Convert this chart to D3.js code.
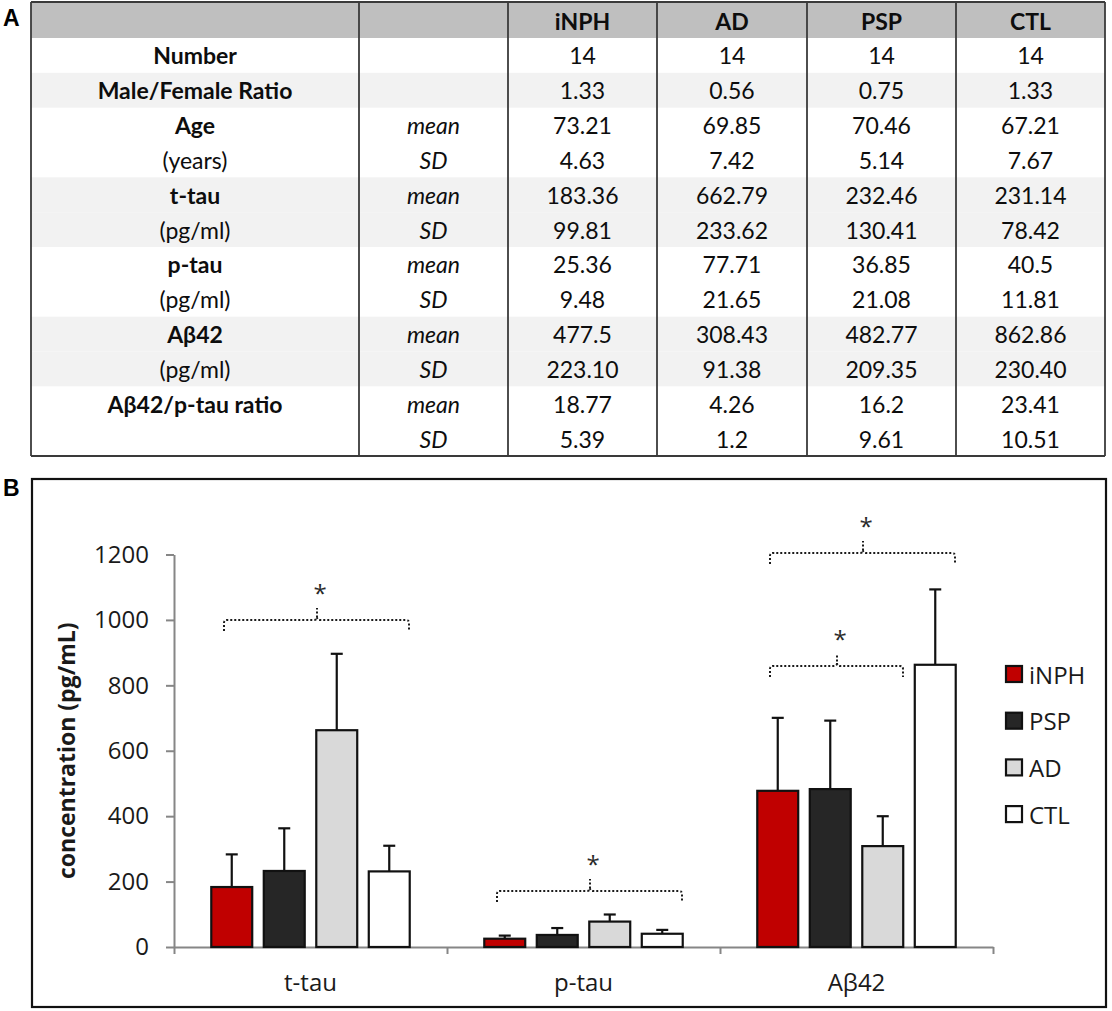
<!DOCTYPE html>
<html>
<head>
<meta charset="utf-8">
<script src="https://cdn.jsdelivr.net/npm/d3@7"></script>
<style>
    body { margin: 0; background: #fff; }
    svg { display: block; }
</style>
</head>
<body>
<div id="figure"></div>
<script>
// table columns (panel A)
const groups = ["iNPH", "AD", "PSP", "CTL"];
const numberRow = ["14", "14", "14", "14"];
const sexRatio = ["1.33", "0.56", "0.75", "1.33"];
const ageMean = ["73.21", "69.85", "70.46", "67.21"];
const ageSD = ["4.63", "7.42", "5.14", "7.67"];
const ttauMean = ["183.36", "662.79", "232.46", "231.14"];
const ttauSD = ["99.81", "233.62", "130.41", "78.42"];
const ptauMean = ["25.36", "77.71", "36.85", "40.5"];
const ptauSD = ["9.48", "21.65", "21.08", "11.81"];
const abMean = ["477.5", "308.43", "482.77", "862.86"];
const abSD = ["223.10", "91.38", "209.35", "230.40"];
const ratioMean = ["18.77", "4.26", "16.2", "23.41"];
const ratioSD = ["5.39", "1.2", "9.61", "10.51"];

// chart (panel B)
const categories = ["t-tau", "p-tau", "Aβ42"];
const series = ["iNPH", "PSP", "AD", "CTL"];
const seriesColors = ["#c00000", "#262626", "#d9d9d9", "#ffffff"];
const yTicks = [0, 200, 400, 600, 800, 1000, 1200];
const brackets = [
    { cat: "t-tau", from: "iNPH", to: "CTL", value: 1000 },
    { cat: "p-tau", from: "iNPH", to: "CTL", value: 172 },
    { cat: "Aβ42", from: "iNPH", to: "CTL", value: 1206 },
    { cat: "Aβ42", from: "iNPH", to: "AD", value: 859 },
];

const W = 1112, H = 1011;
const svg = d3.select("#figure").append("svg").attr("width", W).attr("height", H);

// ---------- Panel A: table ----------
const tableFont = "Lato, 'Open Sans', sans-serif";
const tbl = { left: 31, right: 1105, top: 2, headerBottom: 38, bottom: 456 };
const colEdges = [31, 359, 508, 657, 807, 956, 1105];
const rowH = (tbl.bottom - tbl.headerBottom) / 12;

// row definitions: label, label bold?, sublabel, values, shaded
const tableRows = [
    { label: "Number", bold: true, sub: "", values: numberRow, shade: false },
    { label: "Male/Female Ratio", bold: true, sub: "", values: sexRatio, shade: true },
    { label: "Age", bold: true, sub: "mean", values: ageMean, shade: false },
    { label: "(years)", bold: false, sub: "SD", values: ageSD, shade: false },
    { label: "t-tau", bold: true, sub: "mean", values: ttauMean, shade: true },
    { label: "(pg/ml)", bold: false, sub: "SD", values: ttauSD, shade: true },
    { label: "p-tau", bold: true, sub: "mean", values: ptauMean, shade: false },
    { label: "(pg/ml)", bold: false, sub: "SD", values: ptauSD, shade: false },
    { label: "Aβ42", bold: true, sub: "mean", values: abMean, shade: true },
    { label: "(pg/ml)", bold: false, sub: "SD", values: abSD, shade: true },
    { label: "Aβ42/p-tau ratio", bold: true, sub: "mean", values: ratioMean, shade: false },
    { label: "", bold: false, sub: "SD", values: ratioSD, shade: false },
];

const gA = svg.append("g");

gA.append("rect")
    .attr("x", tbl.left).attr("y", tbl.top)
    .attr("width", tbl.right - tbl.left).attr("height", tbl.headerBottom - tbl.top)
    .attr("fill", "#bfbfbf");

tableRows.forEach((r, i) => {
    const y0 = tbl.headerBottom + i * rowH;
    if (r.shade) {
        gA.append("rect")
            .attr("x", tbl.left).attr("y", y0)
            .attr("width", tbl.right - tbl.left).attr("height", rowH)
            .attr("fill", "#f2f2f2");
    }
});

const cellText = (x, y, txt, opts = {}) => {
    gA.append("text")
        .attr("x", x).attr("y", y)
        .attr("text-anchor", "middle")
        .attr("dominant-baseline", "central")
        .attr("font-family", tableFont)
        .attr("font-size", 23)
        .attr("font-weight", opts.bold ? "bold" : "normal")
        .attr("font-style", opts.italic ? "italic" : "normal")
        .attr("fill", "#0d0d0d")
        .text(txt);
};

const colCenter = i => (colEdges[i] + colEdges[i + 1]) / 2;

groups.forEach((g, j) => cellText(colCenter(j + 2), (tbl.top + tbl.headerBottom) / 2 + 1, g, { bold: true }));

tableRows.forEach((r, i) => {
    const yc = tbl.headerBottom + i * rowH + rowH / 2;
    if (r.label) cellText(colCenter(0), yc, r.label, { bold: r.bold });
    if (r.sub) cellText(colCenter(1), yc, r.sub, { italic: true });
    r.values.forEach((v, j) => cellText(colCenter(j + 2), yc, v));
});

// borders
colEdges.forEach(x => {
    gA.append("line")
        .attr("x1", x).attr("x2", x)
        .attr("y1", tbl.top).attr("y2", tbl.bottom)
        .attr("stroke", "#3a3a3a").attr("stroke-width", 1.8);
});
[tbl.top, tbl.bottom].forEach(y => {
    gA.append("line")
        .attr("x1", tbl.left).attr("x2", tbl.right)
        .attr("y1", y).attr("y2", y)
        .attr("stroke", "#3a3a3a").attr("stroke-width", 2);
});

svg.append("text")
    .attr("x", 3).attr("y", 26)
    .attr("font-family", "'Liberation Sans', Arial, sans-serif")
    .attr("font-weight", "bold").attr("font-size", 23)
    .text("A");

// ---------- Panel B: bar chart ----------
svg.append("text")
    .attr("x", 3).attr("y", 496)
    .attr("font-family", "'Liberation Sans', Arial, sans-serif")
    .attr("font-weight", "bold").attr("font-size", 23)
    .text("B");

svg.append("rect")
    .attr("x", 32).attr("y", 479)
    .attr("width", 1106 - 32).attr("height", 1007 - 479)
    .attr("fill", "none").attr("stroke", "#111").attr("stroke-width", 2.2);

const chartFont = "'Open Sans', 'Noto Sans', sans-serif";
const plot = { left: 174, right: 993, top: 554.5, bottom: 947 };

const y = d3.scaleLinear().domain([0, 1200]).range([plot.bottom, plot.top]);
const x0 = d3.scaleBand().domain(categories).range([plot.left, plot.right]);
const x1 = d3.scaleBand().domain(series).range([0, x0.bandwidth()]).paddingInner(0.22).paddingOuter(0.71);

const meansByCat = { "t-tau": ttauMean, "p-tau": ptauMean, "Aβ42": abMean };
const sdByCat = { "t-tau": ttauSD, "p-tau": ptauSD, "Aβ42": abSD };

const barData = [];
categories.forEach(c => {
    series.forEach((s, k) => {
        const idx = groups.indexOf(s);
        barData.push({
            cat: c,
            s,
            color: seriesColors[k],
            mean: +meansByCat[c][idx],
            sd: +sdByCat[c][idx],
        });
    });
});

const gB = svg.append("g");

// y axis
const yAxis = gB.append("g")
    .attr("transform", `translate(${plot.left},0)`)
    .call(d3.axisLeft(y).tickValues(yTicks).tickFormat(d3.format("d")).tickSize(8).tickSizeOuter(0).tickPadding(17));
yAxis.select(".domain").attr("stroke", "#868686").attr("stroke-width", 2);
yAxis.selectAll(".tick line").attr("stroke", "#868686").attr("stroke-width", 2);
yAxis.selectAll(".tick text")
    .attr("font-family", chartFont).attr("font-size", 24).attr("fill", "#1a1a1a");

// x axis: ticks on category boundaries
const xb = d3.scaleLinear().domain([0, categories.length]).range([plot.left, plot.right]);
const xAxis = gB.append("g")
    .attr("transform", `translate(0,${y(0)})`)
    .call(d3.axisBottom(xb).tickValues(d3.range(categories.length + 1)).tickSize(7).tickSizeOuter(0).tickFormat(""));
xAxis.select(".domain").attr("stroke", "#868686").attr("stroke-width", 2);
xAxis.selectAll(".tick line").attr("stroke", "#868686").attr("stroke-width", 2);

gB.selectAll(".cat-label")
    .data(categories)
    .join("text")
    .attr("class", "cat-label")
    .attr("x", d => x0(d) + x0.bandwidth() / 2)
    .attr("y", 981)
    .attr("text-anchor", "middle")
    .attr("dominant-baseline", "central")
    .attr("font-family", chartFont).attr("font-size", 24).attr("fill", "#1a1a1a")
    .text(d => d);

// error bars
const capW = 12;
const eb = gB.selectAll(".err").data(barData).join("g").attr("class", "err");
eb.append("line")
    .attr("x1", d => x0(d.cat) + x1(d.s) + x1.bandwidth() / 2)
    .attr("x2", d => x0(d.cat) + x1(d.s) + x1.bandwidth() / 2)
    .attr("y1", d => y(d.mean))
    .attr("y2", d => y(d.mean + d.sd))
    .attr("stroke", "#111").attr("stroke-width", 2.2);
eb.append("line")
    .attr("x1", d => x0(d.cat) + x1(d.s) + x1.bandwidth() / 2 - capW / 2)
    .attr("x2", d => x0(d.cat) + x1(d.s) + x1.bandwidth() / 2 + capW / 2)
    .attr("y1", d => y(d.mean + d.sd))
    .attr("y2", d => y(d.mean + d.sd))
    .attr("stroke", "#111").attr("stroke-width", 2.2);

// bars
gB.selectAll(".bar")
    .data(barData)
    .join("rect")
    .attr("class", "bar")
    .attr("x", d => x0(d.cat) + x1(d.s))
    .attr("y", d => y(d.mean))
    .attr("width", x1.bandwidth())
    .attr("height", d => y(0) - y(d.mean))
    .attr("fill", d => d.color)
    .attr("stroke", "#111").attr("stroke-width", 2.2);

// significance brackets (dotted)
brackets.forEach(b => {
    const xa = Math.round(x0(b.cat) + x1(b.from) + x1.bandwidth() / 2 - 8);
    const xc = Math.round(x0(b.cat) + x1(b.to) + x1.bandwidth() / 2 + 20);
    const xm = Math.round((xa + xc) / 2);
    const yb = Math.round(y(b.value));
    const drop = 11, r = 3, notch = 12;
    const path = `M${xa},${yb + drop} L${xa},${yb + r} Q${xa},${yb} ${xa + r},${yb}` +
        ` L${xm - r},${yb} Q${xm},${yb} ${xm},${yb - r} L${xm},${yb - notch}` +
        ` M${xm},${yb - r} Q${xm},${yb} ${xm + r},${yb} L${xc - r},${yb}` +
        ` Q${xc},${yb} ${xc},${yb + r} L${xc},${yb + drop}`;
    gB.append("path")
        .attr("d", path)
        .attr("fill", "none")
        .attr("stroke", "#1a1a1a").attr("stroke-width", 2)
        .attr("stroke-dasharray", "2,2");
    gB.append("text")
        .attr("x", xm + 3).attr("y", yb - 18)
        .attr("text-anchor", "middle")
        .attr("font-family", chartFont).attr("font-size", 24).attr("fill", "#2a2a2a")
        .text("*");
});

// y title
gB.append("text")
    .attr("transform", `translate(66,${(plot.top + plot.bottom) / 2}) rotate(-90)`)
    .attr("text-anchor", "middle")
    .attr("dominant-baseline", "central")
    .attr("font-family", chartFont).attr("font-size", 23).attr("font-weight", "bold").attr("fill", "#1a1a1a")
    .text("concentration (pg/mL)");

// legend
const legend = gB.append("g").attr("transform", "translate(1006,666)");
series.forEach((s, k) => {
    const row = legend.append("g").attr("transform", `translate(0,${k * 46.7})`);
    row.append("rect")
        .attr("width", 16).attr("height", 16)
        .attr("fill", seriesColors[k])
        .attr("stroke", "#111").attr("stroke-width", 2.2);
    row.append("text")
        .attr("x", 23).attr("y", 8)
        .attr("dominant-baseline", "central")
        .attr("font-family", chartFont).attr("font-size", 24).attr("fill", "#1a1a1a")
        .text(s);
});
</script>
</body>
</html>
